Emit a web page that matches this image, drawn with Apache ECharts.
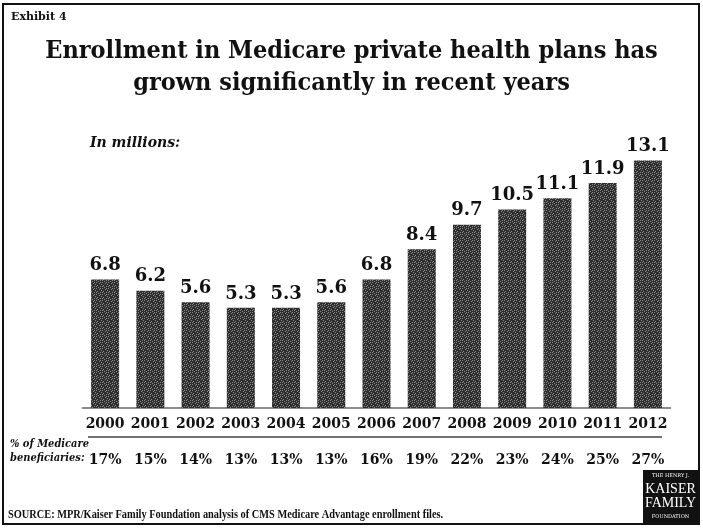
<!DOCTYPE html>
<html>
<head>
<meta charset="utf-8">
<script src="https://cdn.jsdelivr.net/npm/echarts@6/dist/echarts.min.js"></script>
<style>
  html, body { margin: 0; padding: 0; background: #fff; }
  #chart { width: 703px; height: 529px; }
</style>
</head>
<body>
<div id="chart"></div>
<script>
// Medicare private health plan enrollment, 2000-2012
const years = ['2000', '2001', '2002', '2003', '2004', '2005', '2006', '2007', '2008', '2009', '2010', '2011', '2012'];
const enrollmentMillions = [6.8, 6.2, 5.6, 5.3, 5.3, 5.6, 6.8, 8.4, 9.7, 10.5, 11.1, 11.9, 13.1];
const shareOfBeneficiaries = ['17%', '15%', '14%', '13%', '13%', '13%', '16%', '19%', '22%', '23%', '24%', '25%', '27%'];

// Stippled fill for the bars
function stipple() {
  const c = document.createElement('canvas');
  c.width = 6; c.height = 6;
  const g = c.getContext('2d');
  g.fillStyle = '#2e2e2e';
  g.fillRect(0, 0, 6, 6);
  g.fillStyle = '#8c8c8c';
  const dots = [[0,0],[3,1],[5,2],[1,3],[4,4],[2,5],[0,4],[4,0]];
  dots.forEach(([x, y]) => g.fillRect(x, y, 1, 1));
  return c;
}

const serif = '"DejaVu Serif", serif';
const serifCond = '"DejaVu Serif Condensed", "DejaVu Serif", serif';
const times = '"Liberation Serif", serif';

const chart = echarts.init(document.getElementById('chart'), null, { renderer: 'canvas' });
chart.setOption({
  animation: false,
  backgroundColor: '#fff',
  grid: { left: 82.5, right: 32.5, top: 143.4, bottom: 121 },
  xAxis: [
    {
      type: 'category',
      data: years,
      axisLine: { show: true, lineStyle: { color: '#666', width: 1.5 } },
      axisTick: { show: false },
      axisLabel: { interval: 0, margin: 9, color: '#111', fontFamily: serif, fontWeight: 'bold', fontSize: 14 }
    },
    {
      type: 'category',
      data: shareOfBeneficiaries,
      position: 'bottom',
      offset: 36,
      axisLine: { show: false },
      axisTick: { show: false },
      axisLabel: { interval: 0, margin: 9, color: '#111', fontFamily: serif, fontWeight: 'bold', fontSize: 14 }
    }
  ],
  yAxis: {
    type: 'value',
    min: 0,
    max: 14,
    show: false,
    splitLine: { show: false }
  },
  series: [{
    type: 'bar',
    data: enrollmentMillions,
    barWidth: 28,
    itemStyle: { color: { image: stipple(), repeat: 'repeat' } },
    label: {
      show: true,
      position: 'top',
      distance: 5,
      color: '#111',
      fontFamily: serif,
      fontWeight: 'bold',
      fontSize: 18
    }
  }],
  graphic: [
    { type: 'rect', shape: { x: 3, y: 4, width: 696, height: 520 }, style: { fill: 'none', stroke: '#111', lineWidth: 2 } },
    { type: 'text', x: 11, y: 12, style: { text: 'Exhibit 4', font: 'bold 11px ' + serif, fill: '#111' } },
    { type: 'text', x: 351.5, y: 35, style: { text: 'Enrollment in Medicare private health plans has\ngrown significantly in recent years', font: 'bold 25px ' + serifCond, fill: '#111', align: 'center', lineHeight: 32 } },
    { type: 'text', x: 90, y: 136, style: { text: 'In millions:', font: 'italic bold 14px ' + serif, fill: '#111' } },
    { type: 'line', shape: { x1: 88, y1: 437, x2: 662, y2: 437 }, style: { stroke: '#444', lineWidth: 1.5 } },
    { type: 'text', x: 10, y: 437, style: { text: '% of Medicare\nbeneficiaries:', font: 'italic bold 11px ' + serifCond, fill: '#111', lineHeight: 14 } },
    { type: 'text', x: 8, y: 509, scaleX: 0.9, originX: 0, style: { text: 'SOURCE: MPR/Kaiser Family Foundation analysis of CMS Medicare Advantage enrollment files.', font: 'bold 11.5px ' + times, fill: '#111' } },
    { type: 'rect', shape: { x: 643, y: 470, width: 55, height: 54 }, style: { fill: '#111' } },
    { type: 'text', x: 670.5, y: 476, style: { text: 'THE HENRY J.', font: '5px ' + serif, fill: '#fff', align: 'center', verticalAlign: 'middle' } },
    { type: 'text', x: 670.5, y: 489, style: { text: 'KAISER', font: '14px ' + times, fill: '#fff', align: 'center', verticalAlign: 'middle' } },
    { type: 'text', x: 670.5, y: 503, style: { text: 'FAMILY', font: '14px ' + times, fill: '#fff', align: 'center', verticalAlign: 'middle' } },
    { type: 'text', x: 670.5, y: 517, style: { text: 'FOUNDATION', font: '5px ' + serif, fill: '#fff', align: 'center', verticalAlign: 'middle' } }
  ]
});
</script>
</body>
</html>
